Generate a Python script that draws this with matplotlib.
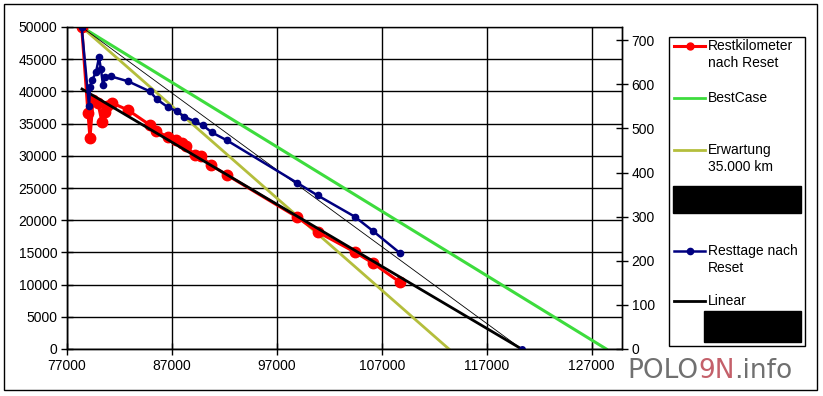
import matplotlib.pyplot as plt
from matplotlib.patches import Rectangle

plt.rcParams['font.family'] = ['Liberation Sans', 'DejaVu Sans']

# Restkilometer nach Reset (km-Stand, Restkilometer)
rest_km_x = [78400, 79000, 79190, 79480, 79950, 80330, 80620, 80810, 81290, 82810,
             84900, 85480, 86620, 87380, 87950, 88330, 89190, 89760, 90710, 92240,
             98910, 100900, 104430, 106140, 108710]
rest_km_y = [50000, 36650, 32760, 38670, 38200, 35250, 36800, 37730, 38200, 37110,
             34780, 33850, 32920, 32450, 31990, 31520, 30120, 29970, 28570, 27020,
             20500, 18170, 15060, 13350, 10400]

# Resttage nach Reset (km-Stand, Tage)
rest_tage_x = [78400, 79100, 79190, 79380, 79760, 80050, 80240, 80430, 80620, 81190,
               82810, 84900, 85570, 86620, 87480, 88140, 89190, 89950, 90810, 92240,
               98910, 100900, 104430, 106140, 108710]
rest_tage_y = [730, 550, 595, 609, 627, 661, 634, 598, 616, 618,
               607, 584, 566, 548, 539, 527, 516, 507, 491, 473,
               377, 348, 300, 268, 218]

bestcase_x = [78400, 128400]
bestcase_y = [50000, 0]
erwartung_x = [78400, 113400]
erwartung_y = [50000, 0]
linear_km_x = [78430, 120330]
linear_km_y = [40370, 0]
linear_tage_x = [78400, 120330]
linear_tage_y = [730, 0]

x_ticks = [77000, 87000, 97000, 107000, 117000, 127000]

RED = '#ff0000'
GREEN = '#3ddc3d'
OLIVE = '#b4be3c'
NAVY = '#000080'

fig = plt.figure(figsize=(8.23, 3.96), dpi=100)
ax = fig.add_axes([67 / 823, 47 / 396, 555 / 823, 322 / 396])
ax2 = ax.twinx()

ax.plot(bestcase_x, bestcase_y, color=GREEN, lw=2.2, zorder=2)
ax.plot(erwartung_x, erwartung_y, color=OLIVE, lw=2.0, zorder=2)
ax.plot(rest_km_x, rest_km_y, color=RED, lw=2.2, marker='o', ms=7.5, zorder=3)
ax.plot(linear_km_x, linear_km_y, color='black', lw=2.0, zorder=4)

ax2.plot(linear_tage_x, linear_tage_y, color='black', lw=0.6)
ax2.plot(rest_tage_x, rest_tage_y, color=NAVY, lw=1.8, marker='o', ms=4.5)
ax2.plot(linear_tage_x[-1:], linear_tage_y[-1:], color=NAVY, marker='o', ms=4, ls='none')

ax.set_xlim(77000, 129900)
ax.set_ylim(0, 50000)
ax2.set_ylim(0, 730)
ax.set_xticks(x_ticks)
ax.set_yticks(range(0, 50001, 5000))
ax2.set_yticks(range(0, 701, 100))
ax.grid(True, color='black', lw=1)
ax.set_axisbelow(True)

for a in (ax, ax2):
    a.tick_params(direction='inout', length=8, width=1, labelsize=10, colors='black', pad=3)
    for s in a.spines.values():
        s.set_color('black')
        s.set_linewidth(1)
ax.spines['top'].set_visible(False)

# legend, frame and watermark in pixel coordinates
lax = fig.add_axes([0, 0, 1, 1], zorder=10)
lax.set_xlim(0, 823)
lax.set_ylim(396, 0)
lax.axis('off')
lax.patch.set_alpha(0)

lax.add_patch(Rectangle((4, 4), 813, 386, fill=False, ec='black', lw=1))
lax.add_patch(Rectangle((669, 37), 136, 309, fill=False, ec='black', lw=1))

lax.plot([674, 705], [46, 46], color=RED, lw=2.2)
lax.plot([690], [46], color=RED, marker='o', ms=5)
lax.text(708, 46, 'Restkilometer', fontsize=10, va='center')
lax.text(708, 63, 'nach Reset', fontsize=10, va='center')

lax.plot([674, 705], [98, 98], color=GREEN, lw=2)
lax.text(708, 98, 'BestCase', fontsize=10, va='center')

lax.plot([674, 705], [150, 150], color=OLIVE, lw=2)
lax.text(708, 150, 'Erwartung', fontsize=10, va='center')
lax.text(708, 167, '35.000 km', fontsize=10, va='center')

lax.add_patch(Rectangle((673, 186), 128, 27, color='black'))

lax.plot([674, 705], [251, 251], color=NAVY, lw=1.8)
lax.plot([690], [251], color=NAVY, marker='o', ms=4.5)
lax.text(708, 251, 'Resttage nach', fontsize=10, va='center')
lax.text(708, 268, 'Reset', fontsize=10, va='center')

lax.plot([674, 705], [301, 301], color='black', lw=2)
lax.text(708, 301, 'Linear', fontsize=10, va='center')
lax.add_patch(Rectangle((704, 311), 97, 31, color='black'))

wm = dict(fontsize=19, family='DejaVu Sans', va='bottom')
t1 = lax.text(627, 384, 'POLO', color='#707070', **wm)
t2 = lax.annotate('9N', xy=(1, 0), xycoords=t1, color='#c4606a', **wm)
lax.annotate('.info', xy=(1, 0), xycoords=t2, color='#707070', **wm)

fig.savefig('out.png', dpi=100)
